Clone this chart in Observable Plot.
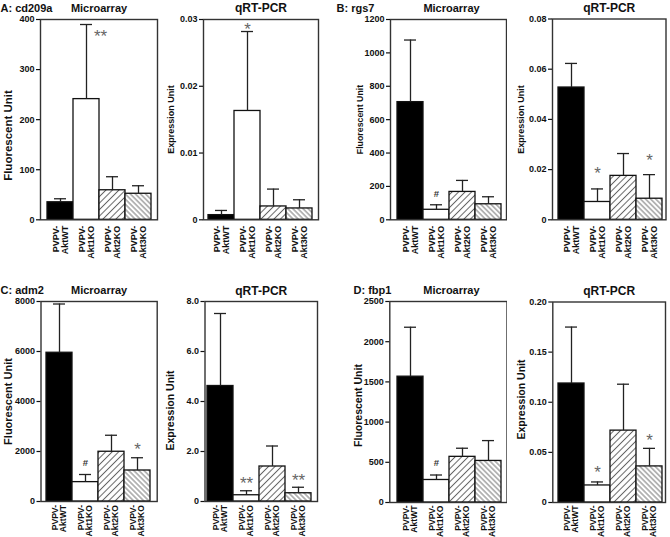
<!DOCTYPE html>
<html>
<head>
<meta charset="utf-8">
<script src="https://cdn.jsdelivr.net/npm/d3@7"></script>
<script src="https://cdn.jsdelivr.net/npm/@observablehq/plot@0.6"></script>
<style>
html, body { margin: 0; padding: 0; background: #fff; }
#chart { position: relative; width: 670px; height: 537px; overflow: hidden; background: #fff; }
#chart svg.panel { position: absolute; }
</style>
</head>
<body>
<svg width="0" height="0" style="position:absolute">
  <defs>
    <pattern id="hatchAkt2" patternUnits="userSpaceOnUse" width="4.6" height="4.6" patternTransform="rotate(45)">
      <rect width="4.6" height="4.6" fill="#fff"></rect>
      <line x1="2.3" y1="0" x2="2.3" y2="4.6" stroke="#666" stroke-width="1"></line>
    </pattern>
    <pattern id="hatchAkt3" patternUnits="userSpaceOnUse" width="3.6" height="3.6" patternTransform="rotate(-45)">
      <rect width="3.6" height="3.6" fill="#fff"></rect>
      <line x1="1.8" y1="0" x2="1.8" y2="3.6" stroke="#666" stroke-width="0.9"></line>
    </pattern>
  </defs>
</svg>
<div id="chart"></div>
<script>
// ---------- data ----------
const groups = ["AktWT", "Akt1KO", "Akt2KO", "Akt3KO"];
const groupPrefix = "PVPV-";

// A: cd209a
const cd209aMicroMean = [35, 241, 59, 52];
const cd209aMicroTop = [42, 390, 86, 68];
const cd209aMicroSig = ["", "**", "", ""];
const cd209aMicroSigY = [null, 374, null, null];
const cd209aMicroTicks = [0, 100, 200, 300, 400];
const cd209aMicroTickLabels = ["0", "100", "200", "300", "400"];

const cd209aQpcrMean = [0.0007, 0.0163, 0.0020, 0.0017];
const cd209aQpcrTop = [0.0014, 0.0282, 0.0046, 0.0030];
const cd209aQpcrSig = ["", "*", "", ""];
const cd209aQpcrSigY = [null, 0.0291, null, null];
const cd209aQpcrTicks = [0, 0.01, 0.02, 0.03];
const cd209aQpcrTickLabels = ["0", "0.01", "0.02", "0.03"];

// B: rgs7
const rgs7MicroMean = [705, 60, 167, 93];
const rgs7MicroTop = [1077, 90, 236, 138];
const rgs7MicroSig = ["", "#", "", ""];
const rgs7MicroSigY = [null, 156, null, null];
const rgs7MicroTicks = [0, 200, 400, 600, 800, 1000, 1200];
const rgs7MicroTickLabels = ["0", "200", "400", "600", "800", "1000", "1200"];

const rgs7QpcrMean = [0.0527, 0.0071, 0.0175, 0.0084];
const rgs7QpcrTop = [0.0623, 0.0123, 0.0264, 0.0180];
const rgs7QpcrSig = ["", "*", "", "*"];
const rgs7QpcrSigY = [null, 0.0200, null, 0.0253];
const rgs7QpcrTicks = [0, 0.02, 0.04, 0.06, 0.08];
const rgs7QpcrTickLabels = ["0", "0.02", "0.04", "0.06", "0.08"];

// C: adm2
const adm2MicroMean = [5950, 775, 1990, 1240];
const adm2MicroTop = [7900, 1080, 2650, 1750];
const adm2MicroSig = ["", "#", "", "*"];
const adm2MicroSigY = [null, 1560, null, 2250];
const adm2MicroTicks = [0, 2000, 4000, 6000, 8000];
const adm2MicroTickLabels = ["0", "2000", "4000", "6000", "8000"];

const adm2QpcrMean = [4.62, 0.25, 1.40, 0.33];
const adm2QpcrTop = [7.52, 0.43, 2.22, 0.57];
const adm2QpcrSig = ["", "**", "", "**"];
const adm2QpcrSigY = [null, 0.88, null, 0.99];
const adm2QpcrTicks = [0, 2, 4, 6, 8];
const adm2QpcrTickLabels = ["0", "2.0", "4.0", "6.0", "8.0"];

// D: fbp1
const fbp1MicroMean = [1565, 280, 568, 517];
const fbp1MicroTop = [2180, 342, 675, 770];
const fbp1MicroSig = ["", "#", "", ""];
const fbp1MicroSigY = [null, 494, null, null];
const fbp1MicroTicks = [0, 500, 1000, 1500, 2000, 2500];
const fbp1MicroTickLabels = ["0", "500", "1000", "1500", "2000", "2500"];

const fbp1QpcrMean = [0.1187, 0.0170, 0.0717, 0.0360];
const fbp1QpcrTop = [0.1750, 0.0205, 0.1180, 0.0540];
const fbp1QpcrSig = ["", "*", "", "*"];
const fbp1QpcrSigY = [null, 0.0337, null, 0.0657];
const fbp1QpcrTicks = [0, 0.05, 0.10, 0.15, 0.20];
const fbp1QpcrTickLabels = ["0", "0.05", "0.10", "0.15", "0.20"];

// ---------- styles / layout ----------
const groupFills = ["#000", "#fff", "url(#hatchAkt2)", "url(#hatchAkt3)"];
const FONT = "'Liberation Sans', Arial, Helvetica, sans-serif";

const panels = [
  {gene: "A: cd209a", geneX: 0, title: "Microarray", titleSize: 11, ylabel: "Fluorescent Unit", ylabelSize: 11.5, ylabelY: 135,
   box: [0, 0, 170, 268], frame: [40, 157, 19, 219.3], bars: [46, 151], ylabelX: 8, titleY: 11.5, sigDx: 14, xlabDy: 6, xlabSize: 9,
   mean: cd209aMicroMean, top: cd209aMicroTop, sig: cd209aMicroSig, sigY: cd209aMicroSigY, ticks: cd209aMicroTicks, tickLabels: cd209aMicroTickLabels},
  {title: "qRT-PCR", titleSize: 12, ylabel: "Expression Unit", ylabelSize: 9, ylabelY: 119,
   box: [158, 0, 177, 268], frame: [203, 318, 19, 219.3], bars: [208.3, 312.3], ylabelX: 170.5, titleY: 11.5, xlabDy: 6, xlabSize: 9,
   mean: cd209aQpcrMean, top: cd209aQpcrTop, sig: cd209aQpcrSig, sigY: cd209aQpcrSigY, ticks: cd209aQpcrTicks, tickLabels: cd209aQpcrTickLabels},
  {gene: "B: rgs7", geneX: 336, title: "Microarray", titleSize: 11, ylabel: "Fluorescent Unit", ylabelSize: 8.8, ylabelY: 119, titleDx: 3,
   box: [335, 0, 172, 268], frame: [390, 506, 19, 219.3], bars: [396.7, 500.7], ylabelX: 359.7, titleY: 11.5, xlabDy: 6, xlabSize: 9,
   mean: rgs7MicroMean, top: rgs7MicroTop, sig: rgs7MicroSig, sigY: rgs7MicroSigY, ticks: rgs7MicroTicks, tickLabels: rgs7MicroTickLabels},
  {title: "qRT-PCR", titleSize: 12, ylabel: "Expression Unit", ylabelSize: 9, ylabelY: 119,
   box: [500, 0, 170, 268], frame: [552, 665.5, 18.5, 219.3], bars: [558.3, 662.3], ylabelX: 521, titleY: 11.5, xlabDy: 6, xlabSize: 9,
   mean: rgs7QpcrMean, top: rgs7QpcrTop, sig: rgs7QpcrSig, sigY: rgs7QpcrSigY, ticks: rgs7QpcrTicks, tickLabels: rgs7QpcrTickLabels},
  {gene: "C: adm2", geneX: 0, title: "Microarray", titleSize: 11, ylabel: "Fluorescent Unit", ylabelSize: 11, ylabelY: 401,
   box: [0, 268, 170, 269], frame: [40.5, 156.7, 301, 501], bars: [45.7, 150.7], ylabelX: 8, titleY: 293.5, xlabDy: 3.5, xlabSize: 8.6,
   mean: adm2MicroMean, top: adm2MicroTop, sig: adm2MicroSig, sigY: adm2MicroSigY, ticks: adm2MicroTicks, tickLabels: adm2MicroTickLabels},
  {title: "qRT-PCR", titleSize: 12, ylabel: "Expression Unit", ylabelSize: 10.5, ylabelY: 410,
   box: [158, 268, 177, 269], frame: [204.5, 317, 301, 501], bars: [206.7, 311.2], ylabelX: 170, titleY: 294.5, xlabDy: 3.5, xlabSize: 8.6,
   mean: adm2QpcrMean, top: adm2QpcrTop, sig: adm2QpcrSig, sigY: adm2QpcrSigY, ticks: adm2QpcrTicks, tickLabels: adm2QpcrTickLabels},
  {gene: "D: fbp1", geneX: 353, title: "Microarray", titleSize: 11, ylabel: "Fluorescent Unit", ylabelSize: 10.5, ylabelY: 405, titleDx: 3,
   box: [335, 268, 172, 269], frame: [389.3, 506.5, 301, 502], bars: [396.7, 500.7], ylabelX: 358.5, titleY: 293.5, xlabDy: 3, xlabSize: 8.6,
   mean: fbp1MicroMean, top: fbp1MicroTop, sig: fbp1MicroSig, sigY: fbp1MicroSigY, ticks: fbp1MicroTicks, tickLabels: fbp1MicroTickLabels},
  {title: "qRT-PCR", titleSize: 12, ylabel: "Expression Unit", ylabelSize: 10.5, ylabelY: 399,
   box: [500, 268, 170, 269], frame: [552.3, 665, 301.5, 502], bars: [558.3, 662.3], ylabelX: 521, titleY: 294.5, xlabDy: 3, xlabSize: 8.6,
   mean: fbp1QpcrMean, top: fbp1QpcrTop, sig: fbp1QpcrSig, sigY: fbp1QpcrSigY, ticks: fbp1QpcrTicks, tickLabels: fbp1QpcrTickLabels}
];

function drawPanel(p) {
  const rows = groups.map((g, i) => ({g, mean: p.mean[i], top: p.top[i], sig: p.sig[i], sigY: p.sigY[i]}));
  const [ox, oy, w, h] = p.box;
  const [fL, fR, fT, fB] = p.frame;
  const marks = [
    Plot.barY(rows, {x: "g", y: "mean", fill: "g", stroke: "#111", strokeWidth: 1.3}),
    Plot.ruleX(rows, {x: "g", y1: "mean", y2: "top", stroke: "#222", strokeWidth: 1.3}),
    Plot.tickY(rows, {x: "g", y: "top", insetLeft: 7, insetRight: 7, stroke: "#222", strokeWidth: 1.3}),
    Plot.frame({stroke: "#333", strokeWidth: 1.4}),
    Plot.axisY({ticks: p.ticks, tickFormat: d => p.tickLabels[p.ticks.indexOf(d)], tickSize: 4, tickPadding: 2, label: null, strokeWidth: 1.2}),
    Plot.text(groups, {x: d => d, frameAnchor: "bottom", text: d => groupPrefix + "\n" + d, rotate: -90,
      textAnchor: "end", lineAnchor: "middle", lineHeight: 0.95, dy: p.xlabDy, fontSize: p.xlabSize}),
    Plot.text([p.ylabel], {frameAnchor: "left", text: d => d, rotate: -90, dx: p.ylabelX - fL,
      dy: p.ylabelY - (fT + fB) / 2, textAnchor: "middle", lineAnchor: "middle", fontSize: p.ylabelSize}),
    Plot.text([p.title], {frameAnchor: "top", text: d => d, dx: p.titleDx || 0, dy: p.titleY - fT,
      lineAnchor: "bottom", fontSize: p.titleSize}),
    Plot.text(rows.filter(r => r.sig === "#"), {x: "g", y: "sigY", text: "sig", fontSize: 9.5,
      fill: "#333", lineAnchor: "middle"}),
    Plot.text(rows.filter(r => r.sig.startsWith("*")), {x: "g", y: "sigY", text: "sig", fontSize: 17,
      fontWeight: "normal", fill: "#666", lineAnchor: "middle", dy: 4, dx: p.sigDx || 0})
  ];
  if (p.gene) {
    marks.push(Plot.text([p.gene], {frameAnchor: "top-left", text: d => d, dx: p.geneX - fL, dy: p.titleY - fT,
      textAnchor: "start", lineAnchor: "bottom", fontSize: 11}));
  }
  const svg = Plot.plot({
    width: w, height: h,
    marginLeft: fL - ox, marginRight: ox + w - fR, marginTop: fT - oy, marginBottom: oy + h - fB,
    x: {domain: groups, range: [p.bars[0] - ox, p.bars[1] - ox], padding: 0, axis: null},
    y: {domain: [0, p.ticks[p.ticks.length - 1]], axis: null},
    color: {domain: groups, range: groupFills},
    style: {fontFamily: FONT, fontSize: "9px", fontWeight: "bold", color: "#111", background: "none"},
    marks
  });
  svg.classList.add("panel");
  svg.style.left = ox + "px";
  svg.style.top = oy + "px";
  document.getElementById("chart").append(svg);
}

panels.forEach(drawPanel);
</script>
</body>
</html>
